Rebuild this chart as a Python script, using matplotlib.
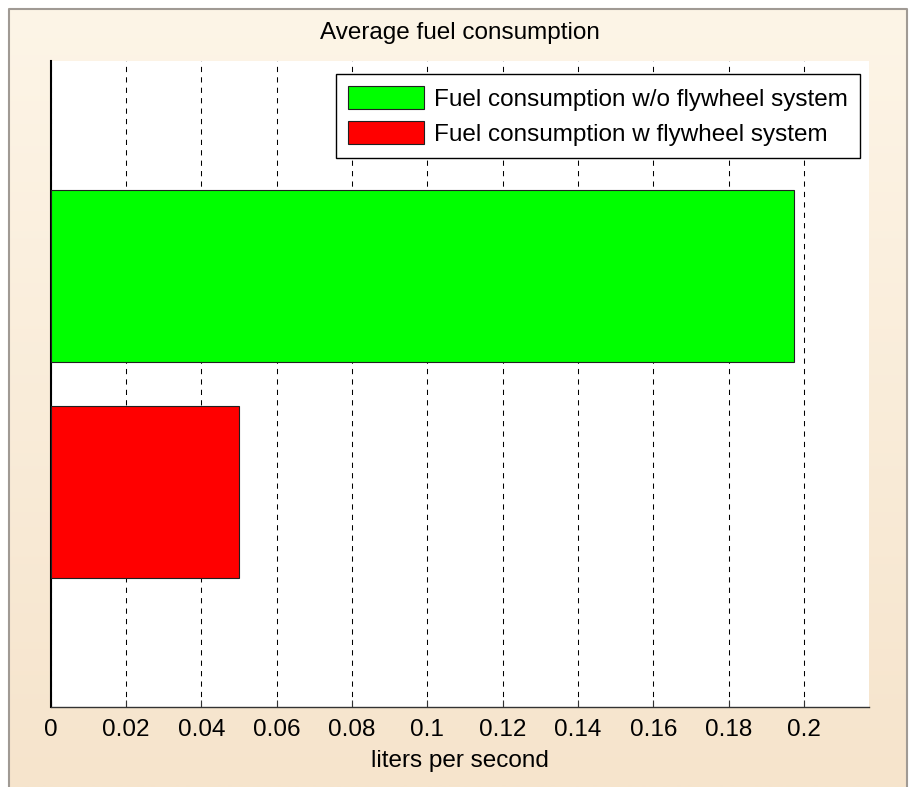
import numpy as np
import matplotlib
matplotlib.use("Agg")
import matplotlib.pyplot as plt

plt.rcParams['font.family'] = ['Liberation Sans', 'DejaVu Sans']

# data
series_labels = ["Fuel consumption w/o flywheel system", "Fuel consumption w flywheel system"]
series_values = [0.1975, 0.0501]
series_colors = ["#00ff00", "#ff0000"]
series_pos = [2, 1]
xticks = [0, 0.02, 0.04, 0.06, 0.08, 0.1, 0.12, 0.14, 0.16, 0.18, 0.2]
xtick_labels = ["0", "0.02", "0.04", "0.06", "0.08", "0.1", "0.12", "0.14", "0.16", "0.18", "0.2"]
title = "Average fuel consumption"
xlabel = "liters per second"

W, H = 910, 787
FS = 17.5
fig = plt.figure(figsize=(W / 100, H / 100), dpi=100)
fig.patch.set_facecolor("white")

# background panel with gradient
bg = fig.add_axes([0, 0, 1, 1])
bg.axis("off")
top = np.array([253, 245, 231]) / 255
bot = np.array([246, 228, 204]) / 255
t = np.linspace(0, 1, 256)[:, None]
grad = (top[None, :] * (1 - t) + bot[None, :] * t)[:, None, :]
bg.imshow(grad, extent=[8, 906, H, 8], aspect="auto", interpolation="bilinear", zorder=0)
bg.plot([8.5, 8.5, 906.5, 906.5], [H, 8.5, 8.5, H], color="#a09a94", lw=1.5, zorder=1)
bg.set_xlim(0, W)
bg.set_ylim(H, 0)

L, R, T, B = 50.7, 869, 61, 707
ax = fig.add_axes([L / W, (H - B) / H, (R - L) / W, (B - T) / H])
ax.set_facecolor("white")

for pos, val, col, lab in zip(series_pos, series_values, series_colors, series_labels):
    ax.barh(pos, val, height=0.8, color=col, edgecolor="#202020", linewidth=0.8, label=lab, zorder=3)

ax.set_xlim(0, 0.2173)
ax.set_ylim(0, 3)
ax.set_xticks(xticks)
ax.set_xticklabels(xtick_labels, fontsize=FS)
ax.set_yticks([])
ax.tick_params(axis="x", direction="in", length=5, width=0.8, color="#333333", pad=9)
ax.xaxis.grid(True, linestyle=(0, (5, 5)), color="black", linewidth=0.75, zorder=1)
ax.set_axisbelow(True)
for s in ["top", "right"]:
    ax.spines[s].set_visible(False)
ax.spines["left"].set_color("black")
ax.spines["left"].set_linewidth(1.5)
ax.spines["bottom"].set_color("#333333")
ax.spines["bottom"].set_linewidth(1.0)

fig.text((L + R) / 2 / W, 1 - 761 / H, xlabel, fontsize=FS, ha="center", va="center")
fig.text((L + R) / 2 / W, 1 - 33 / H, title, fontsize=FS, ha="center", va="center")

leg = ax.legend(loc="upper right", bbox_to_anchor=((860 - L) / (R - L), 1 - (74 - T) / (B - T)),
                fontsize=FS, frameon=True, fancybox=False, borderaxespad=0,
                handlelength=3.15, handleheight=1.1, handletextpad=0.4, labelspacing=0.4,
                borderpad=0.5)
leg.get_frame().set_edgecolor("black")
leg.get_frame().set_linewidth(1.0)
leg.get_frame().set_facecolor("white")
leg.get_frame().set_alpha(1)

fig.savefig("out.png", dpi=100, facecolor=fig.get_facecolor())
